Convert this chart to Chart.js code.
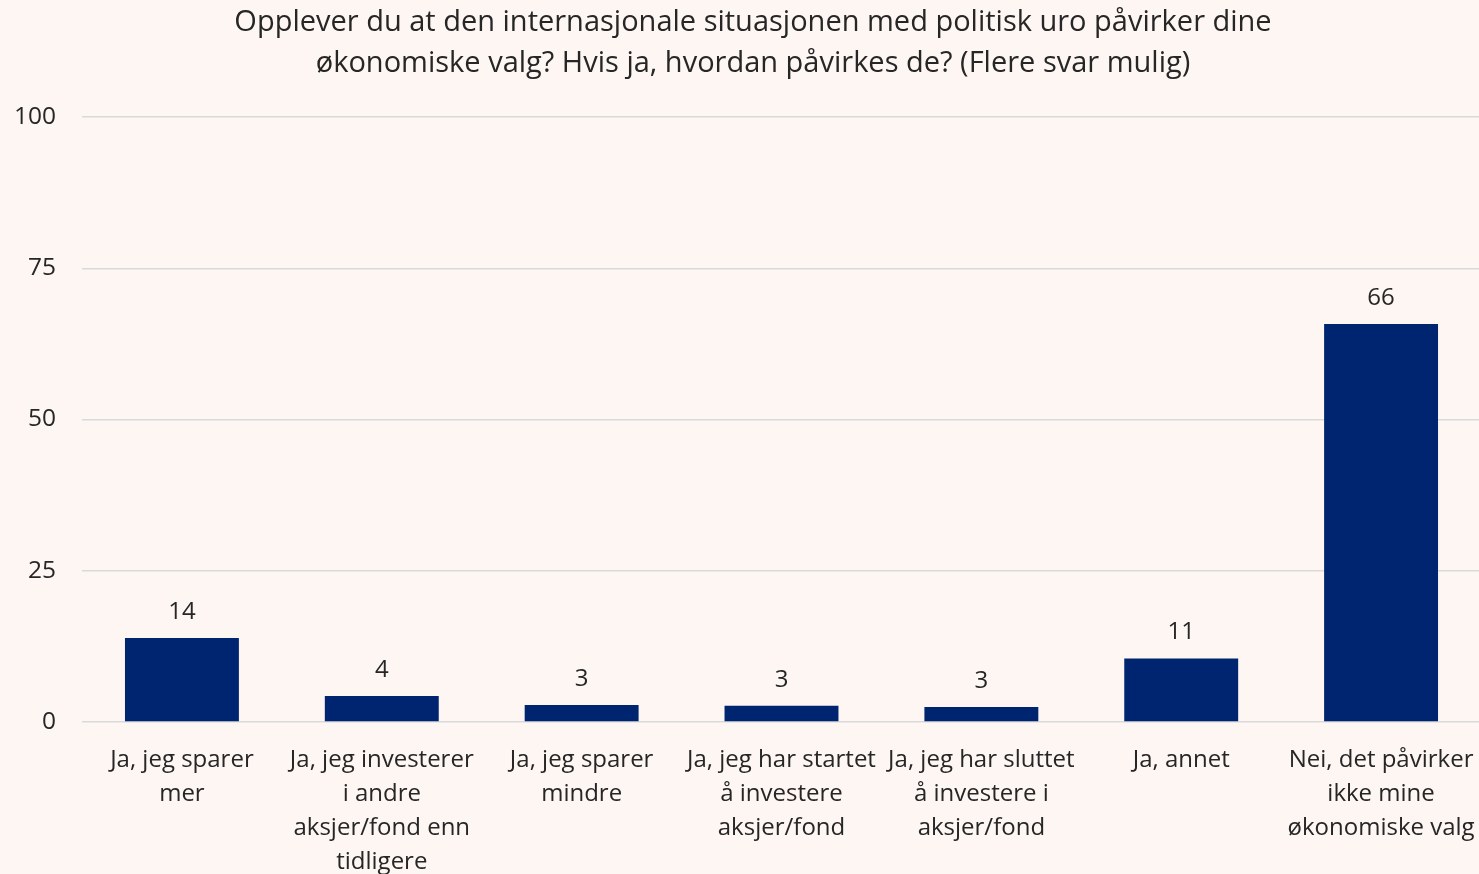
<!DOCTYPE html>
<html>
<head>
<meta charset="utf-8">
<script src="https://cdn.jsdelivr.net/npm/chart.js@4/dist/chart.umd.min.js"></script>
<style>
  html, body { margin: 0; padding: 0; background: #FEF6F3; overflow: hidden; }
  #wrap { width: 1479px; height: 874px; overflow: hidden; }
</style>
</head>
<body>
<div id="wrap"><canvas id="chart" width="1506" height="874"></canvas></div>
<script>
// chart data
const titleLines = [
    'Opplever du at den internasjonale situasjonen med politisk uro påvirker dine',
    'økonomiske valg? Hvis ja, hvordan påvirkes de? (Flere svar mulig)'
];
const categories = [
    ['Ja, jeg sparer', 'mer'],
    ['Ja, jeg investerer', 'i andre', 'aksjer/fond enn', 'tidligere'],
    ['Ja, jeg sparer', 'mindre'],
    ['Ja, jeg har startet', 'å investere', 'aksjer/fond'],
    ['Ja, jeg har sluttet', 'å investere i', 'aksjer/fond'],
    ['Ja, annet'],
    ['Nei, det påvirker', 'ikke mine', 'økonomiske valg']
];
const values = [13.9, 4.3, 2.8, 2.7, 2.5, 10.5, 65.8];
const yTicks = [0, 25, 50, 75, 100];

const FONT = '"Open Sans", Lato, sans-serif';
const TEXT = '#262626';

// value labels above each bar
const barLabels = {
    id: 'barLabels',
    afterDatasetsDraw(chart) {
        const ctx = chart.ctx;
        const meta = chart.getDatasetMeta(0);
        ctx.save();
        ctx.font = '24px ' + FONT;
        ctx.fillStyle = TEXT;
        ctx.textAlign = 'center';
        ctx.textBaseline = 'middle';
        meta.data.forEach((bar, i) => {
            ctx.fillText(String(Math.round(values[i])), bar.x, bar.y - 26);
        });
        ctx.restore();
    }
};

// two-line title, centred a little right of the canvas middle like the original
const chartTitle = {
    id: 'chartTitle',
    afterDraw(chart) {
        const ctx = chart.ctx;
        ctx.save();
        ctx.font = '29px ' + FONT;
        ctx.fillStyle = TEXT;
        ctx.textAlign = 'center';
        ctx.textBaseline = 'middle';
        titleLines.forEach((line, i) => {
            ctx.fillText(line, 753, 23 + i * 41);
        });
        ctx.restore();
    }
};

const ctx = document.getElementById('chart').getContext('2d');
const chart = new Chart(ctx, {
    type: 'bar',
    data: {
        labels: categories,
        datasets: [{
            data: values,
            backgroundColor: '#002570',
            barPercentage: 0.57,
            categoryPercentage: 1.0
        }]
    },
    options: {
        responsive: false,
        animation: false,
        layout: { padding: { left: 0, right: 25, top: 117, bottom: 0 } },
        plugins: {
            legend: { display: false },
            tooltip: { enabled: false },
            title: { display: false }
        },
        scales: {
            x: {
                grid: { display: false, drawTicks: false },
                border: { display: false },
                ticks: {
                    color: TEXT,
                    font: { family: FONT, size: 24, lineHeight: 1.42 },
                    padding: 21,
                    maxRotation: 0,
                    autoSkip: false
                },
                afterFit(scale) {
                    scale.height = 152;
                    scale.paddingLeft = 0;
                    scale.paddingRight = 0;
                }
            },
            y: {
                min: 0,
                max: 100,
                afterBuildTicks(scale) { scale.ticks = yTicks.map(v => ({ value: v })); },
                grid: { color: '#D9D9D9', lineWidth: 1.5, drawTicks: false },
                border: { display: false },
                ticks: {
                    color: TEXT,
                    font: { family: FONT, size: 24.5 },
                    padding: 26
                },
                afterFit(scale) { scale.width = 82; }
            }
        }
    },
    plugins: [barLabels, chartTitle]
});
</script>
</body>
</html>
